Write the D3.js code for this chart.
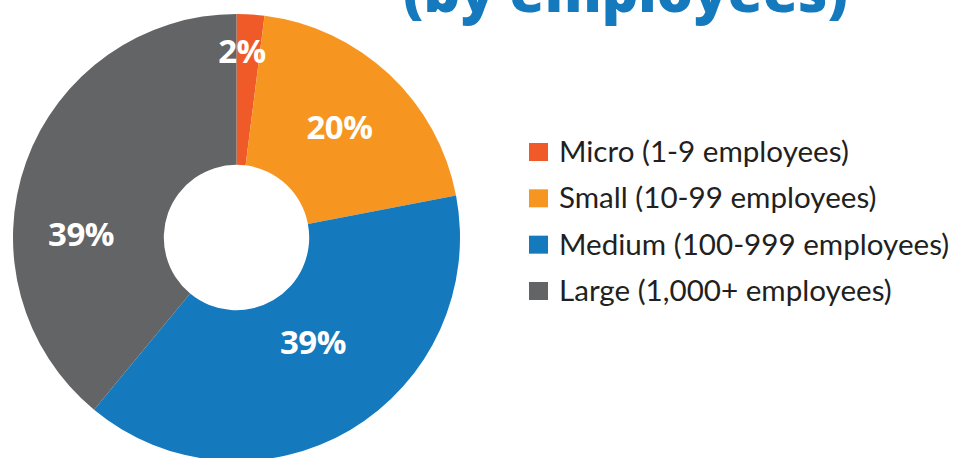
<!DOCTYPE html>
<html>
<head>
<meta charset="utf-8">
<script src="https://cdn.jsdelivr.net/npm/d3@7"></script>
<style>
  body { margin: 0; background: #fff; }
  svg { display: block; }
</style>
</head>
<body>
<div id="chart"></div>
<script>
// Share of companies by size
const categories = ['Micro', 'Small', 'Medium', 'Large'];
const legendLabels = [
  'Micro (1-9 employees)',
  'Small (10-99 employees)',
  'Medium (100-999 employees)',
  'Large (1,000+ employees)'
];
const shares = [2, 20, 39, 39];
const colors = ['#f05a28', '#f6951f', '#1479bd', '#636466'];

const width = 957;
const height = 458;
const cx = 236.5;
const cy = 237.5;
const outerR = 223.5;
const innerR = 72.7;

// Hand-placed label spots: angle (deg from 12 o'clock) and radius
const labelSpots = [[1.7, 186], [43, 151], [144, 130], [271, 155.5]];

const svg = d3.select('#chart').append('svg')
  .attr('width', width)
  .attr('height', height);

// Title, cut by the top edge like the original
svg.append('text')
  .attr('x', 403)
  .attr('y', 12)
  .attr('textLength', 445)
  .attr('lengthAdjust', 'spacingAndGlyphs')
  .attr('font-family', 'Open Sans, sans-serif')
  .attr('font-weight', 800)
  .attr('font-size', 56)
  .attr('fill', '#1479bd')
  .text('(by employees)');

const pie = d3.pie().sort(null).value(d => d);
const arc = d3.arc().innerRadius(innerR).outerRadius(outerR);
const arcs = pie(shares);

const donut = svg.append('g')
  .attr('transform', `translate(${cx}, ${cy})`);

donut.selectAll('path')
  .data(arcs)
  .join('path')
  .attr('d', arc)
  .attr('fill', (d, i) => colors[i]);

donut.selectAll('text')
  .data(arcs)
  .join('text')
  .attr('transform', (d, i) => {
    const a = labelSpots[i][0] * Math.PI / 180;
    const r = labelSpots[i][1];
    return `translate(${r * Math.sin(a)}, ${-r * Math.cos(a)})`;
  })
  .attr('text-anchor', 'middle')
  .attr('dy', '0.35em')
  .attr('font-family', 'Open Sans, sans-serif')
  .attr('font-weight', 700)
  .attr('font-size', 33)
  .attr('letter-spacing', -0.5)
  .attr('fill', '#fff')
  .text(d => `${d.data}%`);

// Legend
const legend = svg.append('g');
const rowY = d3.scalePoint()
  .domain(categories)
  .range([152, 291]);

const rows = legend.selectAll('g')
  .data(categories)
  .join('g')
  .attr('transform', d => `translate(529, ${rowY(d)})`);

rows.append('rect')
  .attr('x', 0)
  .attr('y', -9)
  .attr('width', 19)
  .attr('height', 18)
  .attr('fill', (d, i) => colors[i]);

rows.append('text')
  .attr('x', 30)
  .attr('y', 10)
  .attr('font-family', 'Lato, sans-serif')
  .attr('font-size', 29.6)
  .attr('fill', '#231f20')
  .text((d, i) => legendLabels[i]);
</script>
</body>
</html>
